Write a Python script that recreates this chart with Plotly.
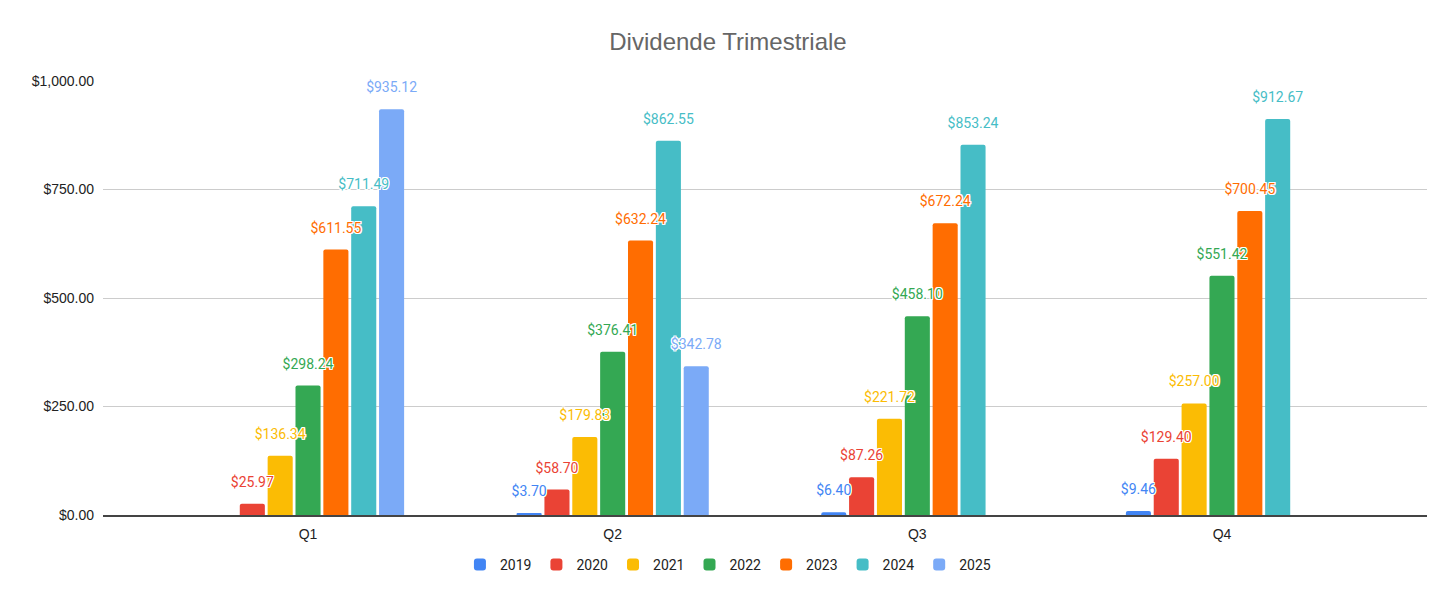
import plotly.graph_objects as go

quarters = ["Q1", "Q2", "Q3", "Q4"]
years = ["2019", "2020", "2021", "2022", "2023", "2024", "2025"]

div_2019 = [None, 3.70, 6.40, 9.46]
div_2020 = [25.97, 58.70, 87.26, 129.40]
div_2021 = [136.34, 179.83, 221.72, 257.00]
div_2022 = [298.24, 376.41, 458.10, 551.42]
div_2023 = [611.55, 632.24, 672.24, 700.45]
div_2024 = [711.49, 862.55, 853.24, 912.67]
div_2025 = [935.12, 342.78, None, None]

series = [div_2019, div_2020, div_2021, div_2022, div_2023, div_2024, div_2025]
colors = ["#4285F4", "#EA4335", "#FBBC04", "#34A853", "#FF6D01", "#46BDC6", "#7BAAF7"]

# white outline round the value labels, like the sheets chart
halo = ("1px 1px 0 #fff, -1px -1px 0 #fff, 1px -1px 0 #fff, -1px 1px 0 #fff, "
        "0 1px 0 #fff, 0 -1px 0 #fff, 1px 0 0 #fff, -1px 0 0 #fff")

fig = go.Figure()
for year, vals, col in zip(years, series, colors):
    fig.add_trace(go.Bar(
        x=quarters, y=vals, name=year, offsetgroup=year,
        marker=dict(color=col, cornerradius=2, line=dict(width=0)),
        hoverinfo="x+y+name",
    ))

# labels as separate text traces so they sit above every bar
# (invisible marker only there to push the text up a bit)
for year, vals, col in zip(years, series, colors):
    labels = [None if v is None else f"${v:,.2f}" for v in vals]
    fig.add_trace(go.Scatter(
        x=quarters, y=vals, name=year, offsetgroup=year,
        mode="markers+text", text=labels, textposition="top center",
        marker=dict(size=20, opacity=0),
        textfont=dict(family="Roboto", size=14, color=col, shadow=halo),
        cliponaxis=False, showlegend=False, hoverinfo="skip",
    ))

fig.update_layout(
    width=1440, height=585,
    paper_bgcolor="white", plot_bgcolor="white",
    title=dict(text="Dividende Trimestriale", x=0.5, xanchor="center", y=1 - 34 / 585, yanchor="middle",
               font=dict(family="Liberation Sans", size=24, color="#666666")),
    barmode="group", bargap=0.36, bargroupgap=0.1,
    scattermode="group", scattergap=0.36,
    margin=dict(l=95, r=21, t=73, b=74),
    font=dict(family="Liberation Sans", size=14, color="#222"),
    legend=dict(orientation="h", x=0.472, xanchor="center", y=-0.115, yanchor="middle",
                font=dict(family="Roboto", size=14, color="#222"), itemwidth=30),
    showlegend=True,
)
fig.update_xaxes(range=[-0.673, 3.673], showgrid=False, showline=True, linecolor="#444",
                 linewidth=1.5, ticks="", ticklabelstandoff=5,
                 tickfont=dict(family="Liberation Sans", size=14, color="#222"))
fig.update_yaxes(range=[0, 1000], dtick=250, tickprefix="$", tickformat=",.2f",
                 gridcolor="#cccccc", zeroline=False, showline=False,
                 ticks="", ticklabelstandoff=8, tickfont=dict(family="Liberation Sans", size=14, color="#222"))

fig.write_html("out.html")
